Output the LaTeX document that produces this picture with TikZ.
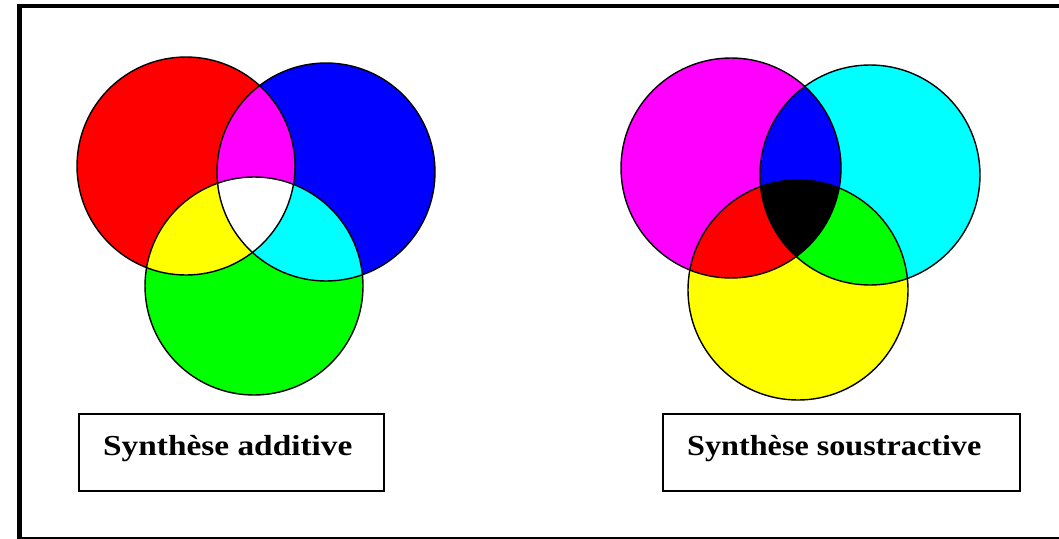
\documentclass[tikz,border=0pt]{standalone}
\usepackage{fontspec}
\setmainfont{Liberation Serif}
\definecolor{pR}{RGB}{255,0,0}
\definecolor{pG}{RGB}{0,255,0}
\definecolor{pB}{RGB}{0,0,255}
\definecolor{pC}{RGB}{0,255,255}
\definecolor{pM}{RGB}{255,0,255}
\definecolor{pY}{RGB}{255,255,0}
\definecolor{pW}{RGB}{255,255,255}
\definecolor{pK}{RGB}{0,0,0}
\begin{document}
\begin{tikzpicture}[x=1pt,y=-1pt,
  ring/.style={draw=black,line width=1.4pt},
  labelbox/.style={draw=black,line width=1.8pt},
  labeltext/.style={font=\fontsize{29}{34}\selectfont\bfseries,inner sep=0pt,anchor=base west}]
\useasboundingbox (0,0) rectangle (1059,538);
\fill[pW] (0,0) rectangle (1059,538);
% outer frame
\draw[line width=4.5pt] (19.5,6) rectangle (1066,539.5);

% ---------- additive ----------
\coordinate (R) at (186,166);
\coordinate (B) at (326,172);
\coordinate (G) at (254,286);
\def\rad{109}
\fill[pR] (R) circle (\rad);
\fill[pB] (B) circle (\rad);
\fill[pG] (G) circle (\rad);
\begin{scope}\clip (R) circle (\rad); \fill[pM] (B) circle (\rad); \end{scope}
\begin{scope}\clip (R) circle (\rad); \fill[pY] (G) circle (\rad); \end{scope}
\begin{scope}\clip (B) circle (\rad); \fill[pC] (G) circle (\rad); \end{scope}
\begin{scope}\clip (R) circle (\rad); \clip (B) circle (\rad); \fill[pW] (G) circle (\rad); \end{scope}
\draw[ring] (R) circle (\rad);
\draw[ring] (B) circle (\rad);
\draw[ring] (G) circle (\rad);

% ---------- subtractive ----------
\coordinate (M) at (731,168);
\coordinate (C) at (870,175);
\coordinate (Y) at (798,290);
\def\radb{110}
\fill[pM] (M) circle (\radb);
\fill[pC] (C) circle (\radb);
\fill[pY] (Y) circle (\radb);
\begin{scope}\clip (M) circle (\radb); \fill[pB] (C) circle (\radb); \end{scope}
\begin{scope}\clip (M) circle (\radb); \fill[pR] (Y) circle (\radb); \end{scope}
\begin{scope}\clip (C) circle (\radb); \fill[pG] (Y) circle (\radb); \end{scope}
\begin{scope}\clip (M) circle (\radb); \clip (C) circle (\radb); \fill[pK] (Y) circle (\radb); \end{scope}
\draw[ring] (M) circle (\radb);
\draw[ring] (C) circle (\radb);
\draw[ring] (Y) circle (\radb);

% ---------- labels ----------
\draw[labelbox] (79,414) rectangle (384,491);
\node[labeltext] (ta) at (103,455) {\scalebox{1.15}[1]{Synthèse additive}};
\draw[labelbox] (663,414) rectangle (1020,491);
\node[labeltext] (ts) at (687,455) {\scalebox{1.11}[1]{Synthèse soustractive}};
\end{tikzpicture}
\end{document}
